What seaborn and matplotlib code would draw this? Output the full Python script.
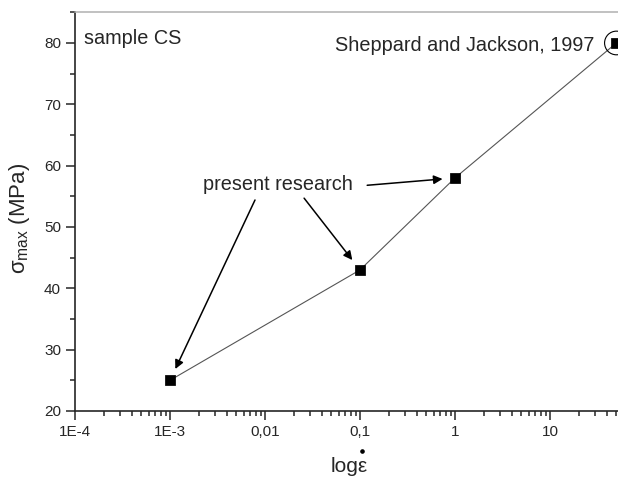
"""Peak stress vs strain rate for sample CS."""

import matplotlib
matplotlib.use("Agg")
import matplotlib.pyplot as plt
import matplotlib.ticker as mticker
import pandas as pd
import seaborn as sns

strain_rate = [1e-3, 0.1, 1, 50]
sigma_max = [25, 43, 58, 80]
x_ticks = [1e-4, 1e-3, 1e-2, 1e-1, 1, 10]
x_tick_labels = ["1E-4", "1E-3", "0,01", "0,1", "1", "10"]
y_ticks = [20, 30, 40, 50, 60, 70, 80]

sns.set_style("ticks")
plt.rcParams["font.family"] = ["Liberation Sans", "DejaVu Sans"]
plt.rcParams["mathtext.fontset"] = "custom"
plt.rcParams["mathtext.rm"] = "Liberation Sans"
plt.rcParams["mathtext.it"] = "Liberation Sans"

df = pd.DataFrame({"rate": strain_rate, "sigma": sigma_max})

fig = plt.figure(figsize=(6.18, 4.79), dpi=100)
# axes runs past the right edge like in the original scan
ax = fig.add_axes([75 / 618, 68 / 479, 570 / 618, 399 / 479])

sns.lineplot(data=df, x="rate", y="sigma", ax=ax, color="#555555", linewidth=0.8)
sns.scatterplot(data=df, x="rate", y="sigma", ax=ax, marker="s", s=45,
                color="black", edgecolor="black", zorder=3)
ax.scatter([strain_rate[-1]], [sigma_max[-1]], s=290, facecolors="none",
           edgecolors="black", linewidths=0.8, zorder=2)

ax.set_xscale("log")
ax.set_xlim(1e-4, 1e2)
ax.set_ylim(20, 85.05)
ax.set_xticks(x_ticks)
ax.set_xticklabels(x_tick_labels)
ax.xaxis.set_minor_locator(mticker.LogLocator(base=10, subs=range(2, 10), numticks=20))
ax.xaxis.set_minor_formatter(mticker.NullFormatter())
ax.set_yticks(y_ticks)
ax.yaxis.set_minor_locator(mticker.MultipleLocator(5))

ax.tick_params(which="major", direction="out", length=6.5, width=1.1, labelsize=11)
ax.tick_params(which="minor", direction="out", length=3.5, width=1.1)
ax.tick_params(top=False, right=False, which="both")
for side in ("left", "bottom"):
    ax.spines[side].set_linewidth(1.2)
ax.spines["top"].set_color("#b0b0b0")
ax.spines["top"].set_linewidth(1.1)
ax.spines["right"].set_visible(False)

ax.set_xlabel("log\u03b5", fontsize=15, va="top")
ax.xaxis.set_label_coords(0.481, -(457 - 411) / 399)
# dot over epsilon
ax.plot([362 / 618], [1 - 451 / 479], transform=fig.transFigure, marker="o",
        ms=2.3, color="black", clip_on=False)
ax.set_ylabel(r"$\sigma_{\rm max}$ (MPa)", fontsize=16)
ax.yaxis.set_label_coords(-(75 - 32) / 570, (411 - 218) / 399)

ax.text(0.016, 0.958, "sample CS", transform=ax.transAxes, fontsize=14.3,
        ha="left", va="top")
ax.annotate("Sheppard and Jackson, 1997", xy=(strain_rate[-1], sigma_max[-1]),
            xytext=(-16, -1.5), textcoords="offset points", fontsize=14.3,
            ha="right", va="center")

arrow = dict(arrowstyle="-|>", color="black", lw=1.1, mutation_scale=13,
             shrinkA=0, shrinkB=9)
ax.text(0.0137, 57, "present research", fontsize=14.3, ha="center", va="center")
ax.annotate("", xy=(strain_rate[0], sigma_max[0]), xytext=(0.00785, 54.4),
            arrowprops=arrow)
ax.annotate("", xy=(strain_rate[1], sigma_max[1]), xytext=(0.0258, 54.7),
            arrowprops=arrow)
ax.annotate("", xy=(strain_rate[2], sigma_max[2]), xytext=(0.119, 56.8),
            arrowprops=arrow)

fig.savefig("out.png", dpi=100)
